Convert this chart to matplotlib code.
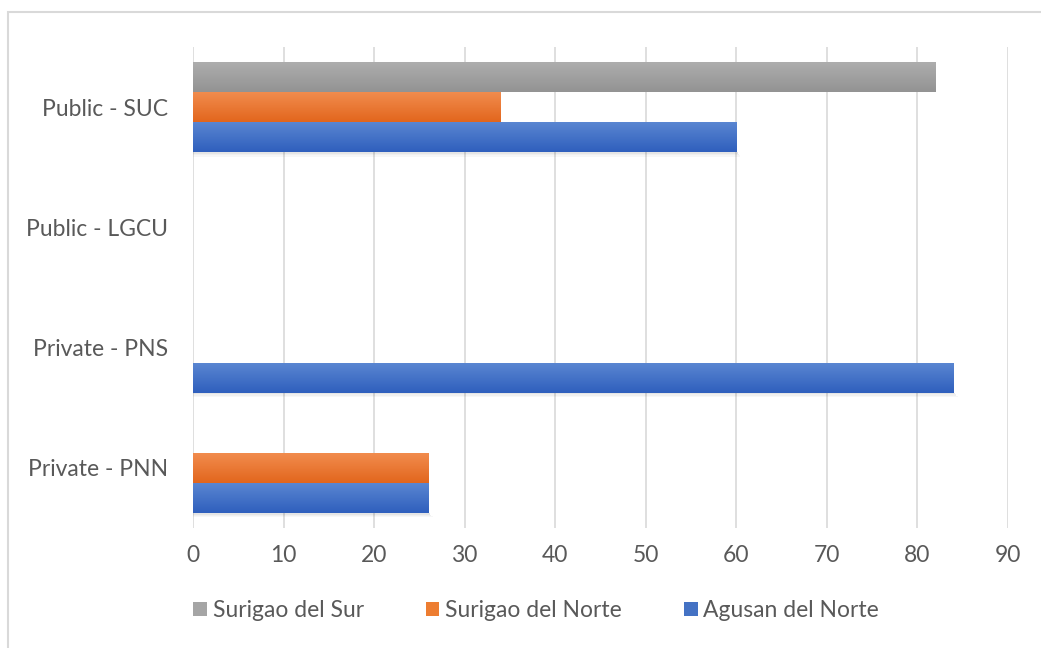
import matplotlib
matplotlib.use("Agg")
import matplotlib.pyplot as plt
import numpy as np
from matplotlib.patches import Rectangle
from matplotlib.colors import LinearSegmentedColormap

categories = ["Private - PNN", "Private - PNS", "Public - LGCU", "Public - SUC"]
series_names = ["Agusan del Norte", "Surigao del Norte", "Surigao del Sur"]
agusan_del_norte = [26, 84, 0, 60]
surigao_del_norte = [26, 0, 0, 34]
surigao_del_sur = [0, 0, 0, 82]
xticks = [0, 10, 20, 30, 40, 50, 60, 70, 80, 90]

colors = ["#4472C4", "#ED7D31", "#A5A5A5"]
grad = [("#5B87D2", "#2F5FBD"), ("#F28D4F", "#E2661D"), ("#AEAEAE", "#939393")]
text_color = "#595959"

plt.rcParams['font.family'] = ['Lato', 'DejaVu Sans']

fig = plt.figure(figsize=(10.41, 6.48), dpi=100)
fig.patches.append(Rectangle((0.008, -0.2), 1.5, 1.1815, transform=fig.transFigure,
                             fill=False, edgecolor="#D9D9D9", linewidth=1.5))
ax = fig.add_axes([0.1854, 0.185, 0.7829, 0.7425])

y = np.arange(len(categories))
h = 0.25
all_series = [agusan_del_norte, surigao_del_norte, surigao_del_sur]
for i, (vals, name, c, g) in enumerate(zip(all_series, series_names, colors, grad)):
    bars = ax.barh(y + (i - 1) * h, vals, height=h, color=c, label=name, zorder=3)
    cmap = LinearSegmentedColormap.from_list("g%d" % i, [g[1], g[0]])
    for b in bars:
        x0, y0, w, hh = b.get_x(), b.get_y(), b.get_width(), b.get_height()
        if w <= 0:
            continue
        if i == 0:
            for k, a in enumerate([0.10, 0.06, 0.03]):
                sh = Rectangle((x0, y0 - 0.012 * (k + 1)), w + 0.15 * (k + 1), 0.012,
                               color="#000000", alpha=a, zorder=2, linewidth=0)
                ax.add_patch(sh)
        im = ax.imshow(np.linspace(0, 1, 64).reshape(-1, 1), cmap=cmap, aspect="auto",
                       extent=(x0, x0 + w, y0, y0 + hh), origin="lower", zorder=4,
                       interpolation="bilinear")
        im.set_clip_path(b)

ax.set_xlim(0, 90)
ax.set_ylim(-0.5, len(categories) - 0.5)
ax.set_xticks(xticks)
ax.set_yticks(y)
ax.set_yticklabels(categories)
ax.xaxis.grid(True, color="#D9D9D9", linewidth=1.2, zorder=0)
for s in ax.spines.values():
    s.set_visible(False)
ax.tick_params(axis="both", length=0, labelsize=16.5, colors=text_color)
ax.tick_params(axis="y", pad=18)
ax.tick_params(axis="x", pad=12)

handles, labels = ax.get_legend_handles_labels()
leg = fig.legend(handles[::-1], labels[::-1], loc="center", bbox_to_anchor=(0.515, 0.058),
                 ncol=3, frameon=False, fontsize=16.5, handlelength=0.6, handleheight=0.6,
                 handletextpad=0.25, columnspacing=2.7)
for t in leg.get_texts():
    t.set_color(text_color)

fig.savefig("out.png", dpi=100)
